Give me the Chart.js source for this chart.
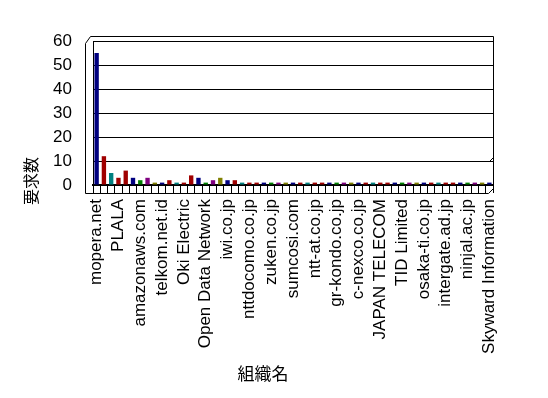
<!DOCTYPE html>
<html>
<head>
<meta charset="utf-8">
<script src="https://cdn.jsdelivr.net/npm/chart.js@4/dist/chart.umd.min.js"></script>
<style>
html,body{margin:0;padding:0;background:#fff;}
#wrap{width:548px;height:398px;position:relative;}
</style>
</head>
<body>
<div id="wrap"><canvas id="c" width="548" height="398"></canvas></div>
<script>
const categories = ['mopera.net','','','PLALA','','','amazonaws.com','','','telkom.net.id','','',
  'Oki Electric','','','Open Data Network','','','iwi.co.jp','','','nttdocomo.co.jp','','',
  'zuken.co.jp','','','sumcosi.com','','','ntt-at.co.jp','','','gr-kondo.co.jp','','',
  'c-nexco.co.jp','','','JAPAN TELECOM','','','TID Limited','','','osaka-ti.co.jp','','',
  'intergate.ad.jp','','','ninjal.ac.jp','','','Skyward Information'];
const requests = [55,12,5,3,6,3,2,3,1,1,2,1,1,4,3,1,2,3,2,2,
  1,1,1,1,1,1,1,1,1,1,1,1,1,1,1,1,1,1,1,1,1,1,1,1,1,1,1,1,1,1,1,1,1,1,1];
const yTicks = [0,10,20,30,40,50,60];
const yTitle = '要求数';
const xTitle = '組織名';

const palette = ['#000080','#a00000','#008080','#a00000','#a00000','#000080','#008000','#800080','#808000'];
const barColors = requests.map((v,i)=>palette[i%palette.length]);
const FONT = "'Liberation Sans', 'Noto Sans CJK JP', sans-serif";

const frame = {
  id:'frame',
  afterDraw(chart){
    const {ctx, chartArea:a} = chart;
    const W = chart.width, H = chart.height;
    ctx.save();
    ctx.strokeStyle = '#000';
    ctx.lineWidth = 1;
    ctx.beginPath();
    const L = Math.round(a.left)+0.5, R = Math.round(a.right)+0.5, T = Math.round(a.top)+0.5, B = Math.round(a.bottom)+0.5;
    // left wall
    ctx.moveTo(L-8, T+2); ctx.lineTo(L-8, B+8);
    ctx.moveTo(L-8, T+2); ctx.lineTo(L-3, T-5); ctx.lineTo(R, T-5); ctx.lineTo(R, B);
    // floor front
    ctx.moveTo(L-8, B+8); ctx.lineTo(R-5, B+8); ctx.lineTo(R, B+3);
    ctx.moveTo(R-4, B-24); ctx.lineTo(R, B-28);
    ctx.stroke();
    // titles
    ctx.fillStyle = '#000';
    ctx.font = '16px ' + FONT;
    ctx.textAlign = 'center';
    ctx.textBaseline = 'middle';
    ctx.save();
    ctx.translate(W*0.06, H*0.455);
    ctx.rotate(-Math.PI/2);
    ctx.fillText(yTitle, 0, 0);
    ctx.restore();
    ctx.font = '17px ' + FONT;
    ctx.fillText(xTitle, W*0.48, H*0.943);
    ctx.restore();
  }
};

new Chart(document.getElementById('c'), {
  type:'bar',
  data:{
    labels:categories,
    datasets:[{data:requests, backgroundColor:barColors, borderWidth:0,
      categoryPercentage:1, barPercentage:0.6}]
  },
  plugins:[frame],
  options:{
    responsive:false,
    animation:false,
    events:[],
    layout:{padding:{left:0, right:55, top:41, bottom:0}},
    plugins:{legend:{display:false}, tooltip:{enabled:false}, title:{display:false}},
    scales:{
      x:{
        offset:true,
        afterFit(s){ s.height = 213; },
        grid:{display:true, drawOnChartArea:false, drawTicks:true, tickLength:8, color:'#000', offset:true},
        border:{display:true, color:'#000', width:2},
        ticks:{autoSkip:false, minRotation:90, maxRotation:90, padding:6, color:'#000',
          font:{family:FONT, size:17}}
      },
      y:{
        min:0, max:60,
        afterFit(s){ s.width = 93; },
        afterBuildTicks(s){ s.ticks = yTicks.map(v=>({value:v})); },
        grid:{color:'#000', lineWidth:1, drawTicks:false},
        border:{display:true, color:'#000', width:1},
        ticks:{padding:21, color:'#000', font:{family:FONT, size:17}}
      }
    }
  }
});
</script>
</body>
</html>
